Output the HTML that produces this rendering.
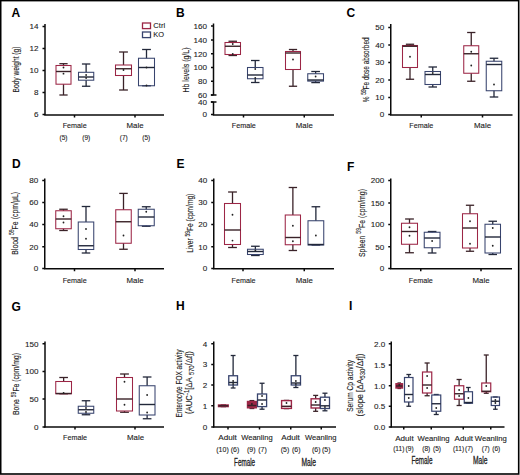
<!DOCTYPE html>
<html><head><meta charset="utf-8"><style>
html,body{margin:0;padding:0;background:#fff;width:520px;height:475px;overflow:hidden;}
svg{display:block;font-family:"Liberation Sans",sans-serif;}
</style></head><body>
<svg width="520" height="475" viewBox="0 0 520 475" font-family="Liberation Sans, sans-serif">
<rect x="0" y="0" width="520" height="475" fill="#fff"/>
<text x="11.5" y="17.45" font-size="12" font-weight="bold" fill="#000">A</text>
<line x1="45" y1="24" x2="45" y2="115" stroke="#0a0a0a" stroke-width="1.5"/>
<line x1="42.5" y1="26.5" x2="45" y2="26.5" stroke="#0a0a0a" stroke-width="1.5"/>
<text x="38.5" y="29.45245" font-size="8.1" text-anchor="end" fill="#222" font-weight="normal" stroke="#222" stroke-width="0.1">14</text>
<line x1="42.5" y1="48.5" x2="45" y2="48.5" stroke="#0a0a0a" stroke-width="1.5"/>
<text x="38.5" y="51.45245" font-size="8.1" text-anchor="end" fill="#222" font-weight="normal" stroke="#222" stroke-width="0.1">12</text>
<line x1="42.5" y1="70.5" x2="45" y2="70.5" stroke="#0a0a0a" stroke-width="1.5"/>
<text x="38.5" y="73.45245" font-size="8.1" text-anchor="end" fill="#222" font-weight="normal" stroke="#222" stroke-width="0.1">10</text>
<line x1="42.5" y1="92.5" x2="45" y2="92.5" stroke="#0a0a0a" stroke-width="1.5"/>
<text x="38.5" y="95.45245" font-size="8.1" text-anchor="end" fill="#222" font-weight="normal" stroke="#222" stroke-width="0.1">8</text>
<line x1="42.5" y1="114.5" x2="45" y2="114.5" stroke="#0a0a0a" stroke-width="1.5"/>
<text x="38.5" y="117.45245" font-size="8.1" text-anchor="end" fill="#222" font-weight="normal" stroke="#222" stroke-width="0.1">6</text>
<line x1="44.25" y1="115" x2="164" y2="115" stroke="#0a0a0a" stroke-width="1.5"/>
<line x1="74.5" y1="115" x2="74.5" y2="117.5" stroke="#0a0a0a" stroke-width="1.5"/>
<line x1="135" y1="115" x2="135" y2="117.5" stroke="#0a0a0a" stroke-width="1.5"/>
<line x1="63.5" y1="63.7" x2="63.5" y2="65.5" stroke="#3a2228" stroke-width="1.3"/>
<line x1="59.375" y1="63.7" x2="67.625" y2="63.7" stroke="#3a2228" stroke-width="1.3"/>
<line x1="63.5" y1="84.2" x2="63.5" y2="95" stroke="#3a2228" stroke-width="1.3"/>
<line x1="59.375" y1="95" x2="67.625" y2="95" stroke="#3a2228" stroke-width="1.3"/>
<rect x="56" y="65.5" width="15" height="18.700000000000003" fill="none" stroke="#9c2646" stroke-width="1.05"/>
<line x1="56" y1="71.5" x2="71" y2="71.5" stroke="#3a2228" stroke-width="1.4"/>
<circle cx="63.5" cy="67.5" r="0.9" fill="#222"/>
<circle cx="63.5" cy="73.7" r="0.9" fill="#222"/>
<line x1="86.125" y1="64" x2="86.125" y2="72.3" stroke="#22283a" stroke-width="1.3"/>
<line x1="81.93125" y1="64" x2="90.31875" y2="64" stroke="#22283a" stroke-width="1.3"/>
<line x1="86.125" y1="80.2" x2="86.125" y2="86.25" stroke="#22283a" stroke-width="1.3"/>
<line x1="81.93125" y1="86.25" x2="90.31875" y2="86.25" stroke="#22283a" stroke-width="1.3"/>
<rect x="78.5" y="72.3" width="15.25" height="7.900000000000006" fill="none" stroke="#38446e" stroke-width="1.05"/>
<line x1="78.5" y1="77" x2="93.75" y2="77" stroke="#22283a" stroke-width="1.4"/>
<circle cx="86.125" cy="75" r="0.9" fill="#222"/>
<circle cx="86.125" cy="78" r="0.9" fill="#222"/>
<line x1="123.5" y1="52" x2="123.5" y2="65" stroke="#3a2228" stroke-width="1.3"/>
<line x1="119.1" y1="52" x2="127.9" y2="52" stroke="#3a2228" stroke-width="1.3"/>
<line x1="123.5" y1="75.5" x2="123.5" y2="90" stroke="#3a2228" stroke-width="1.3"/>
<line x1="119.1" y1="90" x2="127.9" y2="90" stroke="#3a2228" stroke-width="1.3"/>
<rect x="115.5" y="65" width="16.0" height="10.5" fill="none" stroke="#9c2646" stroke-width="1.05"/>
<line x1="115.5" y1="68.75" x2="131.5" y2="68.75" stroke="#3a2228" stroke-width="1.4"/>
<circle cx="123.5" cy="70" r="0.9" fill="#222"/>
<line x1="146.5" y1="49.5" x2="146.5" y2="58.25" stroke="#22283a" stroke-width="1.3"/>
<line x1="142.1" y1="49.5" x2="150.9" y2="49.5" stroke="#22283a" stroke-width="1.3"/>
<line x1="142.1" y1="85.75" x2="150.9" y2="85.75" stroke="#22283a" stroke-width="1.3"/>
<rect x="138.5" y="58.25" width="16.0" height="27.5" fill="none" stroke="#38446e" stroke-width="1.05"/>
<line x1="138.5" y1="67.5" x2="154.5" y2="67.5" stroke="#22283a" stroke-width="1.4"/>
<circle cx="146.5" cy="67.5" r="0.9" fill="#222"/>
<circle cx="146.5" cy="85.5" r="0.9" fill="#222"/>
<text x="74.7" y="128.132" font-size="8" text-anchor="middle" fill="#222" font-weight="normal" textLength="24" lengthAdjust="spacingAndGlyphs" stroke="#222" stroke-width="0.12">Female</text>
<text x="135" y="128.132" font-size="8" text-anchor="middle" fill="#222" font-weight="normal" textLength="17" lengthAdjust="spacingAndGlyphs" stroke="#222" stroke-width="0.12">Male</text>
<text x="63.5" y="139.96925000000002" font-size="6.5" text-anchor="middle" fill="#222" font-weight="normal" stroke="#222" stroke-width="0.1">(5)</text>
<text x="86.2" y="139.96925000000002" font-size="6.5" text-anchor="middle" fill="#222" font-weight="normal" stroke="#222" stroke-width="0.1">(9)</text>
<text x="123.75" y="139.96925000000002" font-size="6.5" text-anchor="middle" fill="#222" font-weight="normal" stroke="#222" stroke-width="0.1">(7)</text>
<text x="146.25" y="139.96925000000002" font-size="6.5" text-anchor="middle" fill="#222" font-weight="normal" stroke="#222" stroke-width="0.1">(5)</text>
<g transform="translate(19.20,69.5) rotate(-90) scale(0.6970,1)" fill="#222" stroke="#222" stroke-width="0.12">
<text x="-33.00" y="0" font-size="9.5">Body weight (g)</text>
</g>
<rect x="142.5" y="23" width="8" height="5.6" fill="none" stroke="#9c2646" stroke-width="1.3"/>
<rect x="142.5" y="32" width="8" height="5.6" fill="none" stroke="#38446e" stroke-width="1.3"/>
<text x="153.3" y="27.5" font-size="8" text-anchor="start" fill="#1a1a1a" font-weight="normal" textLength="11.8" lengthAdjust="spacingAndGlyphs" stroke="#1a1a1a" stroke-width="0.1">Ctrl</text>
<text x="153.3" y="37" font-size="8" text-anchor="start" fill="#1a1a1a" font-weight="normal" textLength="10.8" lengthAdjust="spacingAndGlyphs" stroke="#1a1a1a" stroke-width="0.1">KO</text>
<text x="176" y="17.45" font-size="12" font-weight="bold" fill="#000">B</text>
<line x1="213.5" y1="23.5" x2="213.5" y2="95" stroke="#0a0a0a" stroke-width="1.5"/>
<line x1="213.5" y1="102" x2="213.5" y2="115" stroke="#0a0a0a" stroke-width="1.5"/>
<line x1="211.0" y1="26" x2="213.5" y2="26" stroke="#0a0a0a" stroke-width="1.5"/>
<text x="207.0" y="28.95245" font-size="8.1" text-anchor="end" fill="#222" font-weight="normal" stroke="#222" stroke-width="0.1">160</text>
<line x1="211.0" y1="40" x2="213.5" y2="40" stroke="#0a0a0a" stroke-width="1.5"/>
<text x="207.0" y="42.95245" font-size="8.1" text-anchor="end" fill="#222" font-weight="normal" stroke="#222" stroke-width="0.1">140</text>
<line x1="211.0" y1="53.75" x2="213.5" y2="53.75" stroke="#0a0a0a" stroke-width="1.5"/>
<text x="207.0" y="56.70245" font-size="8.1" text-anchor="end" fill="#222" font-weight="normal" stroke="#222" stroke-width="0.1">120</text>
<line x1="211.0" y1="67.5" x2="213.5" y2="67.5" stroke="#0a0a0a" stroke-width="1.5"/>
<text x="207.0" y="70.45245" font-size="8.1" text-anchor="end" fill="#222" font-weight="normal" stroke="#222" stroke-width="0.1">100</text>
<line x1="211.0" y1="81.25" x2="213.5" y2="81.25" stroke="#0a0a0a" stroke-width="1.5"/>
<text x="207.0" y="84.20245" font-size="8.1" text-anchor="end" fill="#222" font-weight="normal" stroke="#222" stroke-width="0.1">80</text>
<line x1="211.0" y1="95" x2="213.5" y2="95" stroke="#0a0a0a" stroke-width="1.5"/>
<text x="207.0" y="97.95245" font-size="8.1" text-anchor="end" fill="#222" font-weight="normal" stroke="#222" stroke-width="0.1">60</text>
<line x1="211.0" y1="102" x2="213.5" y2="102" stroke="#0a0a0a" stroke-width="1.5"/>
<text x="207.0" y="104.95245" font-size="8.1" text-anchor="end" fill="#222" font-weight="normal" stroke="#222" stroke-width="0.1">40</text>
<line x1="211.0" y1="114.5" x2="213.5" y2="114.5" stroke="#0a0a0a" stroke-width="1.5"/>
<text x="207.0" y="117.45245" font-size="8.1" text-anchor="end" fill="#222" font-weight="normal" stroke="#222" stroke-width="0.1">0</text>
<line x1="212.75" y1="115" x2="334" y2="115" stroke="#0a0a0a" stroke-width="1.5"/>
<line x1="243.5" y1="115" x2="243.5" y2="117.5" stroke="#0a0a0a" stroke-width="1.5"/>
<line x1="304.25" y1="115" x2="304.25" y2="117.5" stroke="#0a0a0a" stroke-width="1.5"/>
<line x1="210.8" y1="95" x2="216.5" y2="95" stroke="#0a0a0a" stroke-width="1.5"/>
<line x1="210.8" y1="102" x2="216.5" y2="102" stroke="#0a0a0a" stroke-width="1.5"/>
<line x1="232.75" y1="41.25" x2="232.75" y2="42.5" stroke="#3a2228" stroke-width="1.3"/>
<line x1="228.4875" y1="41.25" x2="237.0125" y2="41.25" stroke="#3a2228" stroke-width="1.3"/>
<line x1="232.75" y1="54.5" x2="232.75" y2="55.5" stroke="#3a2228" stroke-width="1.3"/>
<line x1="228.4875" y1="55.5" x2="237.0125" y2="55.5" stroke="#3a2228" stroke-width="1.3"/>
<rect x="225" y="42.5" width="15.5" height="12.0" fill="none" stroke="#9c2646" stroke-width="1.05"/>
<line x1="225" y1="46.25" x2="240.5" y2="46.25" stroke="#3a2228" stroke-width="1.4"/>
<circle cx="232.75" cy="44" r="0.9" fill="#222"/>
<circle cx="232.75" cy="54" r="0.9" fill="#222"/>
<line x1="255.25" y1="60.5" x2="255.25" y2="67.5" stroke="#22283a" stroke-width="1.3"/>
<line x1="250.9875" y1="60.5" x2="259.5125" y2="60.5" stroke="#22283a" stroke-width="1.3"/>
<line x1="255.25" y1="78.75" x2="255.25" y2="82.5" stroke="#22283a" stroke-width="1.3"/>
<line x1="250.9875" y1="82.5" x2="259.5125" y2="82.5" stroke="#22283a" stroke-width="1.3"/>
<rect x="247.5" y="67.5" width="15.5" height="11.25" fill="none" stroke="#38446e" stroke-width="1.05"/>
<line x1="247.5" y1="75" x2="263" y2="75" stroke="#22283a" stroke-width="1.4"/>
<circle cx="255.25" cy="69" r="0.9" fill="#222"/>
<circle cx="255.25" cy="78" r="0.9" fill="#222"/>
<line x1="293.0" y1="49.5" x2="293.0" y2="51.5" stroke="#3a2228" stroke-width="1.3"/>
<line x1="288.875" y1="49.5" x2="297.125" y2="49.5" stroke="#3a2228" stroke-width="1.3"/>
<line x1="293.0" y1="69.5" x2="293.0" y2="86.25" stroke="#3a2228" stroke-width="1.3"/>
<line x1="288.875" y1="86.25" x2="297.125" y2="86.25" stroke="#3a2228" stroke-width="1.3"/>
<rect x="285.5" y="51.5" width="15.0" height="18.0" fill="none" stroke="#9c2646" stroke-width="1.05"/>
<line x1="285.5" y1="53" x2="300.5" y2="53" stroke="#3a2228" stroke-width="1.4"/>
<circle cx="293.0" cy="59.5" r="0.9" fill="#222"/>
<line x1="315.625" y1="71.5" x2="315.625" y2="73.75" stroke="#22283a" stroke-width="1.3"/>
<line x1="311.29375" y1="71.5" x2="319.95625" y2="71.5" stroke="#22283a" stroke-width="1.3"/>
<line x1="315.625" y1="81.1" x2="315.625" y2="82.6" stroke="#22283a" stroke-width="1.3"/>
<line x1="311.29375" y1="82.6" x2="319.95625" y2="82.6" stroke="#22283a" stroke-width="1.3"/>
<rect x="307.75" y="73.75" width="15.75" height="7.349999999999994" fill="none" stroke="#38446e" stroke-width="1.05"/>
<line x1="307.75" y1="80" x2="323.5" y2="80" stroke="#22283a" stroke-width="1.4"/>
<circle cx="315.625" cy="76.5" r="0.9" fill="#222"/>
<text x="243.75" y="128.132" font-size="8" text-anchor="middle" fill="#222" font-weight="normal" textLength="24" lengthAdjust="spacingAndGlyphs" stroke="#222" stroke-width="0.12">Female</text>
<text x="304.25" y="128.132" font-size="8" text-anchor="middle" fill="#222" font-weight="normal" textLength="17" lengthAdjust="spacingAndGlyphs" stroke="#222" stroke-width="0.12">Male</text>
<g transform="translate(189.20,70) rotate(-90) scale(0.7348,1)" fill="#222" stroke="#222" stroke-width="0.12">
<text x="-30.62" y="0" font-size="9.5">Hb levels (g/L)</text>
</g>
<text x="346.5" y="17.45" font-size="12" font-weight="bold" fill="#000">C</text>
<line x1="390.75" y1="24" x2="390.75" y2="115" stroke="#0a0a0a" stroke-width="1.5"/>
<line x1="388.25" y1="27.5" x2="390.75" y2="27.5" stroke="#0a0a0a" stroke-width="1.5"/>
<text x="384.25" y="30.45245" font-size="8.1" text-anchor="end" fill="#222" font-weight="normal" stroke="#222" stroke-width="0.1">50</text>
<line x1="388.25" y1="45" x2="390.75" y2="45" stroke="#0a0a0a" stroke-width="1.5"/>
<text x="384.25" y="47.95245" font-size="8.1" text-anchor="end" fill="#222" font-weight="normal" stroke="#222" stroke-width="0.1">40</text>
<line x1="388.25" y1="62.5" x2="390.75" y2="62.5" stroke="#0a0a0a" stroke-width="1.5"/>
<text x="384.25" y="65.45245" font-size="8.1" text-anchor="end" fill="#222" font-weight="normal" stroke="#222" stroke-width="0.1">30</text>
<line x1="388.25" y1="80" x2="390.75" y2="80" stroke="#0a0a0a" stroke-width="1.5"/>
<text x="384.25" y="82.95245" font-size="8.1" text-anchor="end" fill="#222" font-weight="normal" stroke="#222" stroke-width="0.1">20</text>
<line x1="388.25" y1="97.5" x2="390.75" y2="97.5" stroke="#0a0a0a" stroke-width="1.5"/>
<text x="384.25" y="100.45245" font-size="8.1" text-anchor="end" fill="#222" font-weight="normal" stroke="#222" stroke-width="0.1">10</text>
<line x1="388.25" y1="114.5" x2="390.75" y2="114.5" stroke="#0a0a0a" stroke-width="1.5"/>
<text x="384.25" y="117.45245" font-size="8.1" text-anchor="end" fill="#222" font-weight="normal" stroke="#222" stroke-width="0.1">0</text>
<line x1="390.0" y1="115" x2="512.5" y2="115" stroke="#0a0a0a" stroke-width="1.5"/>
<line x1="421.25" y1="115" x2="421.25" y2="117.5" stroke="#0a0a0a" stroke-width="1.5"/>
<line x1="482.5" y1="115" x2="482.5" y2="117.5" stroke="#0a0a0a" stroke-width="1.5"/>
<line x1="410.0" y1="44.25" x2="410.0" y2="45.5" stroke="#3a2228" stroke-width="1.3"/>
<line x1="405.875" y1="44.25" x2="414.125" y2="44.25" stroke="#3a2228" stroke-width="1.3"/>
<line x1="410.0" y1="67.5" x2="410.0" y2="79.25" stroke="#3a2228" stroke-width="1.3"/>
<line x1="405.875" y1="79.25" x2="414.125" y2="79.25" stroke="#3a2228" stroke-width="1.3"/>
<rect x="402.5" y="45.5" width="15.0" height="22.0" fill="none" stroke="#9c2646" stroke-width="1.05"/>
<line x1="402.5" y1="46.25" x2="417.5" y2="46.25" stroke="#3a2228" stroke-width="1.4"/>
<circle cx="410.0" cy="56.75" r="0.9" fill="#222"/>
<line x1="432.75" y1="67" x2="432.75" y2="71.5" stroke="#22283a" stroke-width="1.3"/>
<line x1="428.4875" y1="67" x2="437.0125" y2="67" stroke="#22283a" stroke-width="1.3"/>
<line x1="432.75" y1="84.5" x2="432.75" y2="87" stroke="#22283a" stroke-width="1.3"/>
<line x1="428.4875" y1="87" x2="437.0125" y2="87" stroke="#22283a" stroke-width="1.3"/>
<rect x="425" y="71.5" width="15.5" height="13.0" fill="none" stroke="#38446e" stroke-width="1.05"/>
<line x1="425" y1="74.5" x2="440.5" y2="74.5" stroke="#22283a" stroke-width="1.4"/>
<circle cx="432.75" cy="73" r="0.9" fill="#222"/>
<line x1="471.25" y1="32.5" x2="471.25" y2="45.75" stroke="#3a2228" stroke-width="1.3"/>
<line x1="467.125" y1="32.5" x2="475.375" y2="32.5" stroke="#3a2228" stroke-width="1.3"/>
<line x1="471.25" y1="73.25" x2="471.25" y2="81.25" stroke="#3a2228" stroke-width="1.3"/>
<line x1="467.125" y1="81.25" x2="475.375" y2="81.25" stroke="#3a2228" stroke-width="1.3"/>
<rect x="463.75" y="45.75" width="15.0" height="27.5" fill="none" stroke="#9c2646" stroke-width="1.05"/>
<line x1="463.75" y1="53.75" x2="478.75" y2="53.75" stroke="#3a2228" stroke-width="1.4"/>
<circle cx="471.25" cy="51.75" r="0.9" fill="#222"/>
<circle cx="471.25" cy="65.5" r="0.9" fill="#222"/>
<line x1="494.0" y1="58.25" x2="494.0" y2="61.25" stroke="#22283a" stroke-width="1.3"/>
<line x1="489.7375" y1="58.25" x2="498.2625" y2="58.25" stroke="#22283a" stroke-width="1.3"/>
<line x1="494.0" y1="90.75" x2="494.0" y2="97" stroke="#22283a" stroke-width="1.3"/>
<line x1="489.7375" y1="97" x2="498.2625" y2="97" stroke="#22283a" stroke-width="1.3"/>
<rect x="486.25" y="61.25" width="15.5" height="29.5" fill="none" stroke="#38446e" stroke-width="1.05"/>
<line x1="486.25" y1="64.5" x2="501.75" y2="64.5" stroke="#22283a" stroke-width="1.4"/>
<circle cx="494.0" cy="84.5" r="0.9" fill="#222"/>
<text x="421.25" y="128.132" font-size="8" text-anchor="middle" fill="#222" font-weight="normal" textLength="24" lengthAdjust="spacingAndGlyphs" stroke="#222" stroke-width="0.12">Female</text>
<text x="482.5" y="128.132" font-size="8" text-anchor="middle" fill="#222" font-weight="normal" textLength="17" lengthAdjust="spacingAndGlyphs" stroke="#222" stroke-width="0.12">Male</text>
<g transform="translate(369.30,69.8) rotate(-90) scale(0.6810,1)" fill="#222" stroke="#222" stroke-width="0.12">
<text x="-47.72" y="0" font-size="9.5">% </text>
<text x="-36.64" y="-3.5" font-size="7">59</text>
<text x="-28.85" y="0" font-size="9.5">Fe dose absorbed</text>
</g>
<text x="12" y="167.55" font-size="12" font-weight="bold" fill="#000">D</text>
<line x1="44.75" y1="178.5" x2="44.75" y2="269" stroke="#0a0a0a" stroke-width="1.5"/>
<line x1="42.25" y1="180.5" x2="44.75" y2="180.5" stroke="#0a0a0a" stroke-width="1.5"/>
<text x="38.25" y="183.45245" font-size="8.1" text-anchor="end" fill="#222" font-weight="normal" stroke="#222" stroke-width="0.1">80</text>
<line x1="42.25" y1="202.5" x2="44.75" y2="202.5" stroke="#0a0a0a" stroke-width="1.5"/>
<text x="38.25" y="205.45245" font-size="8.1" text-anchor="end" fill="#222" font-weight="normal" stroke="#222" stroke-width="0.1">60</text>
<line x1="42.25" y1="224.5" x2="44.75" y2="224.5" stroke="#0a0a0a" stroke-width="1.5"/>
<text x="38.25" y="227.45245" font-size="8.1" text-anchor="end" fill="#222" font-weight="normal" stroke="#222" stroke-width="0.1">40</text>
<line x1="42.25" y1="246.75" x2="44.75" y2="246.75" stroke="#0a0a0a" stroke-width="1.5"/>
<text x="38.25" y="249.70245" font-size="8.1" text-anchor="end" fill="#222" font-weight="normal" stroke="#222" stroke-width="0.1">20</text>
<line x1="42.25" y1="268.5" x2="44.75" y2="268.5" stroke="#0a0a0a" stroke-width="1.5"/>
<text x="38.25" y="271.45245" font-size="8.1" text-anchor="end" fill="#222" font-weight="normal" stroke="#222" stroke-width="0.1">0</text>
<line x1="44.0" y1="268.75" x2="164" y2="268.75" stroke="#0a0a0a" stroke-width="1.5"/>
<line x1="74.5" y1="268.75" x2="74.5" y2="271.25" stroke="#0a0a0a" stroke-width="1.5"/>
<line x1="135" y1="268.75" x2="135" y2="271.25" stroke="#0a0a0a" stroke-width="1.5"/>
<line x1="63.5" y1="209.25" x2="63.5" y2="210.75" stroke="#3a2228" stroke-width="1.3"/>
<line x1="59.2375" y1="209.25" x2="67.7625" y2="209.25" stroke="#3a2228" stroke-width="1.3"/>
<line x1="63.5" y1="228.75" x2="63.5" y2="230.5" stroke="#3a2228" stroke-width="1.3"/>
<line x1="59.2375" y1="230.5" x2="67.7625" y2="230.5" stroke="#3a2228" stroke-width="1.3"/>
<rect x="55.75" y="210.75" width="15.5" height="18.0" fill="none" stroke="#9c2646" stroke-width="1.05"/>
<line x1="55.75" y1="219" x2="71.25" y2="219" stroke="#3a2228" stroke-width="1.4"/>
<circle cx="63.5" cy="216.25" r="0.9" fill="#222"/>
<circle cx="63.5" cy="222.5" r="0.9" fill="#222"/>
<line x1="86.0" y1="206.5" x2="86.0" y2="222" stroke="#22283a" stroke-width="1.3"/>
<line x1="81.7375" y1="206.5" x2="90.2625" y2="206.5" stroke="#22283a" stroke-width="1.3"/>
<line x1="86.0" y1="249.5" x2="86.0" y2="253" stroke="#22283a" stroke-width="1.3"/>
<line x1="81.7375" y1="253" x2="90.2625" y2="253" stroke="#22283a" stroke-width="1.3"/>
<rect x="78.25" y="222" width="15.5" height="27.5" fill="none" stroke="#38446e" stroke-width="1.05"/>
<line x1="78.25" y1="245.75" x2="93.75" y2="245.75" stroke="#22283a" stroke-width="1.4"/>
<circle cx="86.0" cy="229" r="0.9" fill="#222"/>
<circle cx="86.0" cy="238.75" r="0.9" fill="#222"/>
<line x1="123.5" y1="193.4" x2="123.5" y2="209.75" stroke="#3a2228" stroke-width="1.3"/>
<line x1="119.2375" y1="193.4" x2="127.7625" y2="193.4" stroke="#3a2228" stroke-width="1.3"/>
<line x1="123.5" y1="243.25" x2="123.5" y2="249.25" stroke="#3a2228" stroke-width="1.3"/>
<line x1="119.2375" y1="249.25" x2="127.7625" y2="249.25" stroke="#3a2228" stroke-width="1.3"/>
<rect x="115.75" y="209.75" width="15.5" height="33.5" fill="none" stroke="#9c2646" stroke-width="1.05"/>
<line x1="115.75" y1="221.75" x2="131.25" y2="221.75" stroke="#3a2228" stroke-width="1.4"/>
<circle cx="123.5" cy="235.5" r="0.9" fill="#222"/>
<line x1="146.25" y1="206.75" x2="146.25" y2="209.25" stroke="#22283a" stroke-width="1.3"/>
<line x1="141.85" y1="206.75" x2="150.65" y2="206.75" stroke="#22283a" stroke-width="1.3"/>
<line x1="146.25" y1="225.75" x2="146.25" y2="226.25" stroke="#22283a" stroke-width="1.3"/>
<line x1="141.85" y1="226.25" x2="150.65" y2="226.25" stroke="#22283a" stroke-width="1.3"/>
<rect x="138.25" y="209.25" width="16.0" height="16.5" fill="none" stroke="#38446e" stroke-width="1.05"/>
<line x1="138.25" y1="217" x2="154.25" y2="217" stroke="#22283a" stroke-width="1.4"/>
<circle cx="146.25" cy="211.75" r="0.9" fill="#222"/>
<text x="74.7" y="282.632" font-size="8" text-anchor="middle" fill="#222" font-weight="normal" textLength="24" lengthAdjust="spacingAndGlyphs" stroke="#222" stroke-width="0.12">Female</text>
<text x="135" y="282.632" font-size="8" text-anchor="middle" fill="#222" font-weight="normal" textLength="17" lengthAdjust="spacingAndGlyphs" stroke="#222" stroke-width="0.12">Male</text>
<g transform="translate(17.90,223.3) rotate(-90) scale(0.7316,1)" fill="#222" stroke="#222" stroke-width="0.12">
<text x="-43.06" y="0" font-size="9.5">Blood </text>
<text x="-16.12" y="-3.5" font-size="7">59</text>
<text x="-8.34" y="0" font-size="9.5">Fe (cpm/μL)</text>
</g>
<text x="176.5" y="167.55" font-size="12" font-weight="bold" fill="#000">E</text>
<line x1="213.75" y1="178.5" x2="213.75" y2="269" stroke="#0a0a0a" stroke-width="1.5"/>
<line x1="211.25" y1="180.5" x2="213.75" y2="180.5" stroke="#0a0a0a" stroke-width="1.5"/>
<text x="207.25" y="183.45245" font-size="8.1" text-anchor="end" fill="#222" font-weight="normal" stroke="#222" stroke-width="0.1">40</text>
<line x1="211.25" y1="202.5" x2="213.75" y2="202.5" stroke="#0a0a0a" stroke-width="1.5"/>
<text x="207.25" y="205.45245" font-size="8.1" text-anchor="end" fill="#222" font-weight="normal" stroke="#222" stroke-width="0.1">30</text>
<line x1="211.25" y1="224.5" x2="213.75" y2="224.5" stroke="#0a0a0a" stroke-width="1.5"/>
<text x="207.25" y="227.45245" font-size="8.1" text-anchor="end" fill="#222" font-weight="normal" stroke="#222" stroke-width="0.1">20</text>
<line x1="211.25" y1="246.75" x2="213.75" y2="246.75" stroke="#0a0a0a" stroke-width="1.5"/>
<text x="207.25" y="249.70245" font-size="8.1" text-anchor="end" fill="#222" font-weight="normal" stroke="#222" stroke-width="0.1">10</text>
<line x1="211.25" y1="268.5" x2="213.75" y2="268.5" stroke="#0a0a0a" stroke-width="1.5"/>
<text x="207.25" y="271.45245" font-size="8.1" text-anchor="end" fill="#222" font-weight="normal" stroke="#222" stroke-width="0.1">0</text>
<line x1="213.0" y1="268.75" x2="334" y2="268.75" stroke="#0a0a0a" stroke-width="1.5"/>
<line x1="243" y1="268.75" x2="243" y2="271.25" stroke="#0a0a0a" stroke-width="1.5"/>
<line x1="304.25" y1="268.75" x2="304.25" y2="271.25" stroke="#0a0a0a" stroke-width="1.5"/>
<line x1="232.5" y1="192" x2="232.5" y2="203.5" stroke="#3a2228" stroke-width="1.3"/>
<line x1="228.1" y1="192" x2="236.9" y2="192" stroke="#3a2228" stroke-width="1.3"/>
<line x1="232.5" y1="244.5" x2="232.5" y2="247.5" stroke="#3a2228" stroke-width="1.3"/>
<line x1="228.1" y1="247.5" x2="236.9" y2="247.5" stroke="#3a2228" stroke-width="1.3"/>
<rect x="224.5" y="203.5" width="16.0" height="41.0" fill="none" stroke="#9c2646" stroke-width="1.05"/>
<line x1="224.5" y1="230" x2="240.5" y2="230" stroke="#3a2228" stroke-width="1.4"/>
<circle cx="232.5" cy="214.75" r="0.9" fill="#222"/>
<circle cx="232.5" cy="240.6" r="0.9" fill="#222"/>
<line x1="255.375" y1="246.25" x2="255.375" y2="249.25" stroke="#22283a" stroke-width="1.3"/>
<line x1="251.04375" y1="246.25" x2="259.70625" y2="246.25" stroke="#22283a" stroke-width="1.3"/>
<line x1="255.375" y1="254.5" x2="255.375" y2="255.5" stroke="#22283a" stroke-width="1.3"/>
<line x1="251.04375" y1="255.5" x2="259.70625" y2="255.5" stroke="#22283a" stroke-width="1.3"/>
<rect x="247.5" y="249.25" width="15.75" height="5.25" fill="none" stroke="#38446e" stroke-width="1.05"/>
<line x1="247.5" y1="251.5" x2="263.25" y2="251.5" stroke="#22283a" stroke-width="1.4"/>
<circle cx="255.375" cy="250.5" r="0.9" fill="#222"/>
<line x1="292.875" y1="187.5" x2="292.875" y2="215" stroke="#3a2228" stroke-width="1.3"/>
<line x1="288.68125" y1="187.5" x2="297.06875" y2="187.5" stroke="#3a2228" stroke-width="1.3"/>
<line x1="292.875" y1="244.75" x2="292.875" y2="250.5" stroke="#3a2228" stroke-width="1.3"/>
<line x1="288.68125" y1="250.5" x2="297.06875" y2="250.5" stroke="#3a2228" stroke-width="1.3"/>
<rect x="285.25" y="215" width="15.25" height="29.75" fill="none" stroke="#9c2646" stroke-width="1.05"/>
<line x1="285.25" y1="237.5" x2="300.5" y2="237.5" stroke="#3a2228" stroke-width="1.4"/>
<circle cx="292.875" cy="225.75" r="0.9" fill="#222"/>
<circle cx="292.875" cy="241.25" r="0.9" fill="#222"/>
<line x1="315.875" y1="206.75" x2="315.875" y2="220.75" stroke="#22283a" stroke-width="1.3"/>
<line x1="311.54375" y1="206.75" x2="320.20625" y2="206.75" stroke="#22283a" stroke-width="1.3"/>
<line x1="311.54375" y1="245" x2="320.20625" y2="245" stroke="#22283a" stroke-width="1.3"/>
<rect x="308" y="220.75" width="15.75" height="24.25" fill="none" stroke="#38446e" stroke-width="1.05"/>
<line x1="308" y1="244.5" x2="323.75" y2="244.5" stroke="#22283a" stroke-width="1.4"/>
<circle cx="315.875" cy="235.5" r="0.9" fill="#222"/>
<text x="243.5" y="282.632" font-size="8" text-anchor="middle" fill="#222" font-weight="normal" textLength="24" lengthAdjust="spacingAndGlyphs" stroke="#222" stroke-width="0.12">Female</text>
<text x="304.25" y="282.632" font-size="8" text-anchor="middle" fill="#222" font-weight="normal" textLength="17" lengthAdjust="spacingAndGlyphs" stroke="#222" stroke-width="0.12">Male</text>
<g transform="translate(193.30,223.2) rotate(-90) scale(0.6954,1)" fill="#222" stroke="#222" stroke-width="0.12">
<text x="-42.42" y="0" font-size="9.5">Liver </text>
<text x="-19.19" y="-3.5" font-size="7">59</text>
<text x="-11.41" y="0" font-size="9.5">Fe (cpm/mg)</text>
</g>
<text x="347" y="170.85" font-size="12" font-weight="bold" fill="#000">F</text>
<line x1="390.75" y1="178.5" x2="390.75" y2="269" stroke="#0a0a0a" stroke-width="1.5"/>
<line x1="388.25" y1="180.5" x2="390.75" y2="180.5" stroke="#0a0a0a" stroke-width="1.5"/>
<text x="384.25" y="183.45245" font-size="8.1" text-anchor="end" fill="#222" font-weight="normal" stroke="#222" stroke-width="0.1">200</text>
<line x1="388.25" y1="203" x2="390.75" y2="203" stroke="#0a0a0a" stroke-width="1.5"/>
<text x="384.25" y="205.95245" font-size="8.1" text-anchor="end" fill="#222" font-weight="normal" stroke="#222" stroke-width="0.1">150</text>
<line x1="388.25" y1="224.5" x2="390.75" y2="224.5" stroke="#0a0a0a" stroke-width="1.5"/>
<text x="384.25" y="227.45245" font-size="8.1" text-anchor="end" fill="#222" font-weight="normal" stroke="#222" stroke-width="0.1">100</text>
<line x1="388.25" y1="246.75" x2="390.75" y2="246.75" stroke="#0a0a0a" stroke-width="1.5"/>
<text x="384.25" y="249.70245" font-size="8.1" text-anchor="end" fill="#222" font-weight="normal" stroke="#222" stroke-width="0.1">50</text>
<line x1="388.25" y1="268.5" x2="390.75" y2="268.5" stroke="#0a0a0a" stroke-width="1.5"/>
<text x="384.25" y="271.45245" font-size="8.1" text-anchor="end" fill="#222" font-weight="normal" stroke="#222" stroke-width="0.1">0</text>
<line x1="390.0" y1="268.75" x2="512" y2="268.75" stroke="#0a0a0a" stroke-width="1.5"/>
<line x1="420.75" y1="268.75" x2="420.75" y2="271.25" stroke="#0a0a0a" stroke-width="1.5"/>
<line x1="481" y1="268.75" x2="481" y2="271.25" stroke="#0a0a0a" stroke-width="1.5"/>
<line x1="409.5" y1="219" x2="409.5" y2="223.25" stroke="#3a2228" stroke-width="1.3"/>
<line x1="405.1" y1="219" x2="413.9" y2="219" stroke="#3a2228" stroke-width="1.3"/>
<line x1="409.5" y1="244.25" x2="409.5" y2="252.75" stroke="#3a2228" stroke-width="1.3"/>
<line x1="405.1" y1="252.75" x2="413.9" y2="252.75" stroke="#3a2228" stroke-width="1.3"/>
<rect x="401.5" y="223.25" width="16.0" height="21.0" fill="none" stroke="#9c2646" stroke-width="1.05"/>
<line x1="401.5" y1="231.5" x2="417.5" y2="231.5" stroke="#3a2228" stroke-width="1.4"/>
<circle cx="409.5" cy="227.25" r="0.9" fill="#222"/>
<circle cx="409.5" cy="235.75" r="0.9" fill="#222"/>
<line x1="432.125" y1="231.5" x2="432.125" y2="232.25" stroke="#22283a" stroke-width="1.3"/>
<line x1="427.79375" y1="231.5" x2="436.45625" y2="231.5" stroke="#22283a" stroke-width="1.3"/>
<line x1="432.125" y1="247.75" x2="432.125" y2="253" stroke="#22283a" stroke-width="1.3"/>
<line x1="427.79375" y1="253" x2="436.45625" y2="253" stroke="#22283a" stroke-width="1.3"/>
<rect x="424.25" y="232.25" width="15.75" height="15.5" fill="none" stroke="#38446e" stroke-width="1.05"/>
<line x1="424.25" y1="238" x2="440" y2="238" stroke="#22283a" stroke-width="1.4"/>
<circle cx="432.125" cy="241" r="0.9" fill="#222"/>
<line x1="470.0" y1="205.25" x2="470.0" y2="213.75" stroke="#3a2228" stroke-width="1.3"/>
<line x1="465.875" y1="205.25" x2="474.125" y2="205.25" stroke="#3a2228" stroke-width="1.3"/>
<line x1="470.0" y1="248" x2="470.0" y2="251.25" stroke="#3a2228" stroke-width="1.3"/>
<line x1="465.875" y1="251.25" x2="474.125" y2="251.25" stroke="#3a2228" stroke-width="1.3"/>
<rect x="462.5" y="213.75" width="15.0" height="34.25" fill="none" stroke="#9c2646" stroke-width="1.05"/>
<line x1="462.5" y1="228" x2="477.5" y2="228" stroke="#3a2228" stroke-width="1.4"/>
<circle cx="470.0" cy="221.25" r="0.9" fill="#222"/>
<circle cx="470.0" cy="243.75" r="0.9" fill="#222"/>
<line x1="492.75" y1="221.25" x2="492.75" y2="224.25" stroke="#22283a" stroke-width="1.3"/>
<line x1="488.4875" y1="221.25" x2="497.0125" y2="221.25" stroke="#22283a" stroke-width="1.3"/>
<line x1="492.75" y1="253" x2="492.75" y2="254.5" stroke="#22283a" stroke-width="1.3"/>
<line x1="488.4875" y1="254.5" x2="497.0125" y2="254.5" stroke="#22283a" stroke-width="1.3"/>
<rect x="485" y="224.25" width="15.5" height="28.75" fill="none" stroke="#38446e" stroke-width="1.05"/>
<line x1="485" y1="237" x2="500.5" y2="237" stroke="#22283a" stroke-width="1.4"/>
<circle cx="492.75" cy="228" r="0.9" fill="#222"/>
<circle cx="492.75" cy="245.75" r="0.9" fill="#222"/>
<text x="420.75" y="282.632" font-size="8" text-anchor="middle" fill="#222" font-weight="normal" textLength="24" lengthAdjust="spacingAndGlyphs" stroke="#222" stroke-width="0.12">Female</text>
<text x="481" y="282.632" font-size="8" text-anchor="middle" fill="#222" font-weight="normal" textLength="17" lengthAdjust="spacingAndGlyphs" stroke="#222" stroke-width="0.12">Male</text>
<g transform="translate(364.50,223) rotate(-90) scale(0.7247,1)" fill="#222" stroke="#222" stroke-width="0.12">
<text x="-46.92" y="0" font-size="9.5">Spleen </text>
<text x="-14.70" y="-3.5" font-size="7">59</text>
<text x="-6.91" y="0" font-size="9.5">Fe (cpm/mg)</text>
</g>
<text x="11.5" y="310.75" font-size="12" font-weight="bold" fill="#000">G</text>
<line x1="45" y1="341.5" x2="45" y2="427.5" stroke="#0a0a0a" stroke-width="1.5"/>
<line x1="42.5" y1="343.75" x2="45" y2="343.75" stroke="#0a0a0a" stroke-width="1.5"/>
<text x="38.5" y="346.70245" font-size="8.1" text-anchor="end" fill="#222" font-weight="normal" stroke="#222" stroke-width="0.1">150</text>
<line x1="42.5" y1="371.5" x2="45" y2="371.5" stroke="#0a0a0a" stroke-width="1.5"/>
<text x="38.5" y="374.45245" font-size="8.1" text-anchor="end" fill="#222" font-weight="normal" stroke="#222" stroke-width="0.1">100</text>
<line x1="42.5" y1="399" x2="45" y2="399" stroke="#0a0a0a" stroke-width="1.5"/>
<text x="38.5" y="401.95245" font-size="8.1" text-anchor="end" fill="#222" font-weight="normal" stroke="#222" stroke-width="0.1">50</text>
<line x1="42.5" y1="427" x2="45" y2="427" stroke="#0a0a0a" stroke-width="1.5"/>
<text x="38.5" y="429.95245" font-size="8.1" text-anchor="end" fill="#222" font-weight="normal" stroke="#222" stroke-width="0.1">0</text>
<line x1="44.25" y1="427" x2="164" y2="427" stroke="#0a0a0a" stroke-width="1.5"/>
<line x1="75" y1="427" x2="75" y2="429.5" stroke="#0a0a0a" stroke-width="1.5"/>
<line x1="135" y1="427" x2="135" y2="429.5" stroke="#0a0a0a" stroke-width="1.5"/>
<line x1="63.625" y1="377.5" x2="63.625" y2="381.5" stroke="#3a2228" stroke-width="1.3"/>
<line x1="59.29375" y1="377.5" x2="67.95625" y2="377.5" stroke="#3a2228" stroke-width="1.3"/>
<line x1="59.29375" y1="393.75" x2="67.95625" y2="393.75" stroke="#3a2228" stroke-width="1.3"/>
<rect x="55.75" y="381.5" width="15.75" height="12.25" fill="none" stroke="#9c2646" stroke-width="1.05"/>
<line x1="55.75" y1="393.5" x2="71.5" y2="393.5" stroke="#3a2228" stroke-width="1.4"/>
<circle cx="63.625" cy="393" r="0.9" fill="#222"/>
<line x1="86.0" y1="400.75" x2="86.0" y2="406.25" stroke="#22283a" stroke-width="1.3"/>
<line x1="81.7375" y1="400.75" x2="90.2625" y2="400.75" stroke="#22283a" stroke-width="1.3"/>
<line x1="86.0" y1="413.25" x2="86.0" y2="414.75" stroke="#22283a" stroke-width="1.3"/>
<line x1="81.7375" y1="414.75" x2="90.2625" y2="414.75" stroke="#22283a" stroke-width="1.3"/>
<rect x="78.25" y="406.25" width="15.5" height="7.0" fill="none" stroke="#38446e" stroke-width="1.05"/>
<line x1="78.25" y1="409.75" x2="93.75" y2="409.75" stroke="#22283a" stroke-width="1.4"/>
<circle cx="86.0" cy="408" r="0.9" fill="#222"/>
<circle cx="86.0" cy="412" r="0.9" fill="#222"/>
<line x1="124.5" y1="374" x2="124.5" y2="377.5" stroke="#3a2228" stroke-width="1.3"/>
<line x1="120.1" y1="374" x2="128.9" y2="374" stroke="#3a2228" stroke-width="1.3"/>
<line x1="124.5" y1="411" x2="124.5" y2="412.25" stroke="#3a2228" stroke-width="1.3"/>
<line x1="120.1" y1="412.25" x2="128.9" y2="412.25" stroke="#3a2228" stroke-width="1.3"/>
<rect x="116.5" y="377.5" width="16.0" height="33.5" fill="none" stroke="#9c2646" stroke-width="1.05"/>
<line x1="116.5" y1="399" x2="132.5" y2="399" stroke="#3a2228" stroke-width="1.4"/>
<circle cx="124.5" cy="381.75" r="0.9" fill="#222"/>
<circle cx="124.5" cy="404.75" r="0.9" fill="#222"/>
<line x1="147.125" y1="377" x2="147.125" y2="385.75" stroke="#22283a" stroke-width="1.3"/>
<line x1="142.79375" y1="377" x2="151.45625" y2="377" stroke="#22283a" stroke-width="1.3"/>
<line x1="147.125" y1="415" x2="147.125" y2="418.75" stroke="#22283a" stroke-width="1.3"/>
<line x1="142.79375" y1="418.75" x2="151.45625" y2="418.75" stroke="#22283a" stroke-width="1.3"/>
<rect x="139.25" y="385.75" width="15.75" height="29.25" fill="none" stroke="#38446e" stroke-width="1.05"/>
<line x1="139.25" y1="404.5" x2="155" y2="404.5" stroke="#22283a" stroke-width="1.4"/>
<circle cx="147.125" cy="395" r="0.9" fill="#222"/>
<circle cx="147.125" cy="412.5" r="0.9" fill="#222"/>
<text x="75" y="440.132" font-size="8" text-anchor="middle" fill="#222" font-weight="normal" textLength="24" lengthAdjust="spacingAndGlyphs" stroke="#222" stroke-width="0.12">Female</text>
<text x="135.5" y="440.132" font-size="8" text-anchor="middle" fill="#222" font-weight="normal" textLength="17" lengthAdjust="spacingAndGlyphs" stroke="#222" stroke-width="0.12">Male</text>
<g transform="translate(19.00,384) rotate(-90) scale(0.7172,1)" fill="#222" stroke="#222" stroke-width="0.12">
<text x="-43.22" y="0" font-size="9.5">Bone </text>
<text x="-18.40" y="-3.5" font-size="7">59</text>
<text x="-10.61" y="0" font-size="9.5">Fe (cpm/mg)</text>
</g>
<text x="176" y="309.95" font-size="12" font-weight="bold" fill="#000">H</text>
<line x1="213.75" y1="341.5" x2="213.75" y2="427.5" stroke="#0a0a0a" stroke-width="1.5"/>
<line x1="211.25" y1="343.75" x2="213.75" y2="343.75" stroke="#0a0a0a" stroke-width="1.5"/>
<text x="207.25" y="346.70245" font-size="8.1" text-anchor="end" fill="#222" font-weight="normal" stroke="#222" stroke-width="0.1">4</text>
<line x1="211.25" y1="364.5" x2="213.75" y2="364.5" stroke="#0a0a0a" stroke-width="1.5"/>
<text x="207.25" y="367.45245" font-size="8.1" text-anchor="end" fill="#222" font-weight="normal" stroke="#222" stroke-width="0.1">3</text>
<line x1="211.25" y1="385" x2="213.75" y2="385" stroke="#0a0a0a" stroke-width="1.5"/>
<text x="207.25" y="387.95245" font-size="8.1" text-anchor="end" fill="#222" font-weight="normal" stroke="#222" stroke-width="0.1">2</text>
<line x1="211.25" y1="405.75" x2="213.75" y2="405.75" stroke="#0a0a0a" stroke-width="1.5"/>
<text x="207.25" y="408.70245" font-size="8.1" text-anchor="end" fill="#222" font-weight="normal" stroke="#222" stroke-width="0.1">1</text>
<line x1="211.25" y1="427" x2="213.75" y2="427" stroke="#0a0a0a" stroke-width="1.5"/>
<text x="207.25" y="429.95245" font-size="8.1" text-anchor="end" fill="#222" font-weight="normal" stroke="#222" stroke-width="0.1">0</text>
<line x1="213.0" y1="427" x2="336" y2="427" stroke="#0a0a0a" stroke-width="1.5"/>
<line x1="228" y1="427" x2="228" y2="429.5" stroke="#0a0a0a" stroke-width="1.5"/>
<line x1="259.5" y1="427" x2="259.5" y2="429.5" stroke="#0a0a0a" stroke-width="1.5"/>
<line x1="290.75" y1="427" x2="290.75" y2="429.5" stroke="#0a0a0a" stroke-width="1.5"/>
<line x1="321.25" y1="427" x2="321.25" y2="429.5" stroke="#0a0a0a" stroke-width="1.5"/>
<line x1="220.6825" y1="405" x2="226.01749999999998" y2="405" stroke="#3a2228" stroke-width="1.3"/>
<line x1="220.6825" y1="406.6" x2="226.01749999999998" y2="406.6" stroke="#3a2228" stroke-width="1.3"/>
<rect x="218.5" y="405" width="9.699999999999989" height="1.6000000000000227" fill="#9c2646" stroke="#9c2646" stroke-width="1.4"/>
<line x1="218.5" y1="405.8" x2="228.2" y2="405.8" stroke="#3a2228" stroke-width="1.4"/>
<line x1="233.125" y1="355.5" x2="233.125" y2="375.75" stroke="#22283a" stroke-width="1.3"/>
<line x1="230.71875" y1="355.5" x2="235.53125" y2="355.5" stroke="#22283a" stroke-width="1.3"/>
<line x1="233.125" y1="385" x2="233.125" y2="388" stroke="#22283a" stroke-width="1.3"/>
<line x1="230.71875" y1="388" x2="235.53125" y2="388" stroke="#22283a" stroke-width="1.3"/>
<rect x="228.75" y="375.75" width="8.75" height="9.25" fill="none" stroke="#38446e" stroke-width="1.3"/>
<line x1="228.75" y1="382.5" x2="237.5" y2="382.5" stroke="#22283a" stroke-width="1.4"/>
<circle cx="233.125" cy="381" r="0.9" fill="#222"/>
<circle cx="233.125" cy="384" r="0.9" fill="#222"/>
<line x1="251.9" y1="400.6" x2="251.9" y2="401.5" stroke="#3a2228" stroke-width="1.3"/>
<line x1="249.48" y1="400.6" x2="254.32000000000002" y2="400.6" stroke="#3a2228" stroke-width="1.3"/>
<line x1="251.9" y1="407.8" x2="251.9" y2="408.5" stroke="#3a2228" stroke-width="1.3"/>
<line x1="249.48" y1="408.5" x2="254.32000000000002" y2="408.5" stroke="#3a2228" stroke-width="1.3"/>
<rect x="247.5" y="401.5" width="8.800000000000011" height="6.300000000000011" fill="#9c2646" stroke="#9c2646" stroke-width="1.4"/>
<line x1="247.5" y1="405.5" x2="256.3" y2="405.5" stroke="#3a2228" stroke-width="1.4"/>
<circle cx="251.9" cy="404" r="0.9" fill="#222"/>
<line x1="262.05" y1="383.25" x2="262.05" y2="394" stroke="#22283a" stroke-width="1.3"/>
<line x1="259.5475" y1="383.25" x2="264.5525" y2="383.25" stroke="#22283a" stroke-width="1.3"/>
<line x1="262.05" y1="406.6" x2="262.05" y2="409.2" stroke="#22283a" stroke-width="1.3"/>
<line x1="259.5475" y1="409.2" x2="264.5525" y2="409.2" stroke="#22283a" stroke-width="1.3"/>
<rect x="257.5" y="394" width="9.100000000000023" height="12.600000000000023" fill="none" stroke="#38446e" stroke-width="1.3"/>
<line x1="257.5" y1="400" x2="266.6" y2="400" stroke="#22283a" stroke-width="1.4"/>
<circle cx="262.05" cy="396" r="0.9" fill="#222"/>
<circle cx="262.05" cy="404" r="0.9" fill="#222"/>
<line x1="283.805" y1="400.4" x2="289.195" y2="400.4" stroke="#3a2228" stroke-width="1.3"/>
<line x1="283.805" y1="408.6" x2="289.195" y2="408.6" stroke="#3a2228" stroke-width="1.3"/>
<rect x="281.6" y="400.6" width="9.799999999999955" height="7.7999999999999545" fill="none" stroke="#9c2646" stroke-width="1.4"/>
<line x1="281.6" y1="406.3" x2="291.4" y2="406.3" stroke="#3a2228" stroke-width="1.4"/>
<circle cx="286.5" cy="403" r="0.9" fill="#222"/>
<line x1="295.875" y1="355.5" x2="295.875" y2="375.75" stroke="#22283a" stroke-width="1.3"/>
<line x1="293.33125" y1="355.5" x2="298.41875" y2="355.5" stroke="#22283a" stroke-width="1.3"/>
<line x1="295.875" y1="385" x2="295.875" y2="387.5" stroke="#22283a" stroke-width="1.3"/>
<line x1="293.33125" y1="387.5" x2="298.41875" y2="387.5" stroke="#22283a" stroke-width="1.3"/>
<rect x="291.25" y="375.75" width="9.25" height="9.25" fill="none" stroke="#38446e" stroke-width="1.3"/>
<line x1="291.25" y1="383" x2="300.5" y2="383" stroke="#22283a" stroke-width="1.4"/>
<circle cx="295.875" cy="381" r="0.9" fill="#222"/>
<circle cx="295.875" cy="384" r="0.9" fill="#222"/>
<line x1="315.65" y1="395.4" x2="315.65" y2="398.8" stroke="#3a2228" stroke-width="1.3"/>
<line x1="313.1475" y1="395.4" x2="318.1525" y2="395.4" stroke="#3a2228" stroke-width="1.3"/>
<line x1="315.65" y1="408" x2="315.65" y2="411.3" stroke="#3a2228" stroke-width="1.3"/>
<line x1="313.1475" y1="411.3" x2="318.1525" y2="411.3" stroke="#3a2228" stroke-width="1.3"/>
<rect x="311.1" y="398.8" width="9.099999999999966" height="9.199999999999989" fill="none" stroke="#9c2646" stroke-width="1.4"/>
<line x1="311.1" y1="405" x2="320.2" y2="405" stroke="#3a2228" stroke-width="1.4"/>
<circle cx="315.65" cy="402" r="0.9" fill="#222"/>
<line x1="324.95" y1="393.2" x2="324.95" y2="397.2" stroke="#22283a" stroke-width="1.3"/>
<line x1="322.4475" y1="393.2" x2="327.4525" y2="393.2" stroke="#22283a" stroke-width="1.3"/>
<line x1="324.95" y1="408.5" x2="324.95" y2="410.8" stroke="#22283a" stroke-width="1.3"/>
<line x1="322.4475" y1="410.8" x2="327.4525" y2="410.8" stroke="#22283a" stroke-width="1.3"/>
<rect x="320.4" y="397.2" width="9.100000000000023" height="11.300000000000011" fill="none" stroke="#38446e" stroke-width="1.3"/>
<line x1="320.4" y1="405.8" x2="329.5" y2="405.8" stroke="#22283a" stroke-width="1.4"/>
<circle cx="324.95" cy="400" r="0.9" fill="#222"/>
<circle cx="324.95" cy="407" r="0.9" fill="#222"/>
<text x="227.5" y="440.432" font-size="8" text-anchor="middle" fill="#222" font-weight="normal" textLength="18.5" lengthAdjust="spacingAndGlyphs" stroke="#222" stroke-width="0.12">Adult</text>
<text x="256.9" y="440.432" font-size="8" text-anchor="middle" fill="#222" font-weight="normal" textLength="31.5" lengthAdjust="spacingAndGlyphs" stroke="#222" stroke-width="0.12">Weanling</text>
<text x="290.5" y="440.432" font-size="8" text-anchor="middle" fill="#222" font-weight="normal" textLength="18.5" lengthAdjust="spacingAndGlyphs" stroke="#222" stroke-width="0.12">Adult</text>
<text x="320.75" y="440.432" font-size="8" text-anchor="middle" fill="#222" font-weight="normal" textLength="31.5" lengthAdjust="spacingAndGlyphs" stroke="#222" stroke-width="0.12">Weanling</text>
<text x="222.5" y="452.0515" font-size="7" text-anchor="middle" fill="#222" font-weight="normal" stroke="#222" stroke-width="0.1">(10)</text>
<text x="235" y="452.0515" font-size="7" text-anchor="middle" fill="#222" font-weight="normal" stroke="#222" stroke-width="0.1">(6)</text>
<text x="251.25" y="452.0515" font-size="7" text-anchor="middle" fill="#222" font-weight="normal" stroke="#222" stroke-width="0.1">(9)</text>
<text x="262.5" y="452.0515" font-size="7" text-anchor="middle" fill="#222" font-weight="normal" stroke="#222" stroke-width="0.1">(7)</text>
<text x="285" y="452.0515" font-size="7" text-anchor="middle" fill="#222" font-weight="normal" stroke="#222" stroke-width="0.1">(5)</text>
<text x="296.25" y="452.0515" font-size="7" text-anchor="middle" fill="#222" font-weight="normal" stroke="#222" stroke-width="0.1">(6)</text>
<text x="316.25" y="452.0515" font-size="7" text-anchor="middle" fill="#222" font-weight="normal" stroke="#222" stroke-width="0.1">(6)</text>
<text x="326.25" y="452.0515" font-size="7" text-anchor="middle" fill="#222" font-weight="normal" stroke="#222" stroke-width="0.1">(5)</text>
<text x="244.6" y="466" font-size="10" text-anchor="middle" fill="#222" font-weight="normal" textLength="21" lengthAdjust="spacingAndGlyphs" stroke="#222" stroke-width="0.3">Female</text>
<text x="308.75" y="466" font-size="10" text-anchor="middle" fill="#222" font-weight="normal" textLength="14.5" lengthAdjust="spacingAndGlyphs" stroke="#222" stroke-width="0.3">Male</text>
<g transform="translate(182.30,383.4) rotate(-90) scale(0.6851,1)" fill="#222" stroke="#222" stroke-width="0.12">
<text x="-49.62" y="0" font-size="9.5">Enterocyte FOX activity</text>
</g>
<g transform="translate(192.00,382.6) rotate(-90) scale(0.8234,1)" fill="#222" stroke="#222" stroke-width="0.12">
<text x="-38.26" y="0" font-size="9.5">(AUC</text>
<text x="-15.03" y="-3.5" font-size="7">-1</text>
<text x="-8.81" y="0" font-size="9.5"> [ΔA</text>
<text x="9.15" y="1.8" font-size="7">570</text>
<text x="20.83" y="0" font-size="9.5">/Δ</text>
<text x="29.81" y="0" font-size="9.5" font-style="italic">t</text>
<text x="32.45" y="0" font-size="9.5">])</text>
</g>
<text x="349" y="309.95" font-size="12" font-weight="bold" fill="#000">I</text>
<line x1="391.25" y1="341.5" x2="391.25" y2="427.5" stroke="#0a0a0a" stroke-width="1.5"/>
<line x1="388.75" y1="343.75" x2="391.25" y2="343.75" stroke="#0a0a0a" stroke-width="1.5"/>
<text x="385.25" y="346.70245" font-size="8.1" text-anchor="end" fill="#222" font-weight="normal" stroke="#222" stroke-width="0.1">2.0</text>
<line x1="388.75" y1="365" x2="391.25" y2="365" stroke="#0a0a0a" stroke-width="1.5"/>
<text x="385.25" y="367.95245" font-size="8.1" text-anchor="end" fill="#222" font-weight="normal" stroke="#222" stroke-width="0.1">1.5</text>
<line x1="388.75" y1="385.75" x2="391.25" y2="385.75" stroke="#0a0a0a" stroke-width="1.5"/>
<text x="385.25" y="388.70245" font-size="8.1" text-anchor="end" fill="#222" font-weight="normal" stroke="#222" stroke-width="0.1">1.0</text>
<line x1="388.75" y1="406.25" x2="391.25" y2="406.25" stroke="#0a0a0a" stroke-width="1.5"/>
<text x="385.25" y="409.20245" font-size="8.1" text-anchor="end" fill="#222" font-weight="normal" stroke="#222" stroke-width="0.1">0.5</text>
<line x1="388.75" y1="427" x2="391.25" y2="427" stroke="#0a0a0a" stroke-width="1.5"/>
<text x="385.25" y="429.95245" font-size="8.1" text-anchor="end" fill="#222" font-weight="normal" stroke="#222" stroke-width="0.1">0.0</text>
<line x1="390.5" y1="427" x2="504.5" y2="427" stroke="#0a0a0a" stroke-width="1.5"/>
<line x1="403.75" y1="427" x2="403.75" y2="429.5" stroke="#0a0a0a" stroke-width="1.5"/>
<line x1="431.25" y1="427" x2="431.25" y2="429.5" stroke="#0a0a0a" stroke-width="1.5"/>
<line x1="463.25" y1="427" x2="463.25" y2="429.5" stroke="#0a0a0a" stroke-width="1.5"/>
<line x1="490.75" y1="427" x2="490.75" y2="429.5" stroke="#0a0a0a" stroke-width="1.5"/>
<line x1="399.25" y1="383" x2="399.25" y2="383.75" stroke="#3a2228" stroke-width="1.3"/>
<line x1="397.4625" y1="383" x2="401.0375" y2="383" stroke="#3a2228" stroke-width="1.3"/>
<line x1="399.25" y1="388" x2="399.25" y2="388.5" stroke="#3a2228" stroke-width="1.3"/>
<line x1="397.4625" y1="388.5" x2="401.0375" y2="388.5" stroke="#3a2228" stroke-width="1.3"/>
<rect x="396" y="383.75" width="6.5" height="4.25" fill="#9c2646" stroke="#9c2646" stroke-width="1.4"/>
<line x1="396" y1="386" x2="402.5" y2="386" stroke="#3a2228" stroke-width="1.4"/>
<circle cx="399.25" cy="385" r="0.9" fill="#222"/>
<line x1="408.75" y1="374.5" x2="408.75" y2="377.5" stroke="#22283a" stroke-width="1.3"/>
<line x1="406.4125" y1="374.5" x2="411.0875" y2="374.5" stroke="#22283a" stroke-width="1.3"/>
<line x1="408.75" y1="402" x2="408.75" y2="406.25" stroke="#22283a" stroke-width="1.3"/>
<line x1="406.4125" y1="406.25" x2="411.0875" y2="406.25" stroke="#22283a" stroke-width="1.3"/>
<rect x="404.5" y="377.5" width="8.5" height="24.5" fill="none" stroke="#38446e" stroke-width="1.2"/>
<line x1="404.5" y1="394.5" x2="413" y2="394.5" stroke="#22283a" stroke-width="1.4"/>
<circle cx="408.75" cy="386" r="0.9" fill="#222"/>
<circle cx="408.75" cy="398" r="0.9" fill="#222"/>
<line x1="427.125" y1="363" x2="427.125" y2="372" stroke="#3a2228" stroke-width="1.3"/>
<line x1="424.58125" y1="363" x2="429.66875" y2="363" stroke="#3a2228" stroke-width="1.3"/>
<line x1="427.125" y1="393" x2="427.125" y2="395.75" stroke="#3a2228" stroke-width="1.3"/>
<line x1="424.58125" y1="395.75" x2="429.66875" y2="395.75" stroke="#3a2228" stroke-width="1.3"/>
<rect x="422.5" y="372" width="9.25" height="21" fill="none" stroke="#9c2646" stroke-width="1.2"/>
<line x1="422.5" y1="385" x2="431.75" y2="385" stroke="#3a2228" stroke-width="1.4"/>
<circle cx="427.125" cy="376" r="0.9" fill="#222"/>
<circle cx="427.125" cy="388" r="0.9" fill="#222"/>
<line x1="436.25" y1="394.5" x2="436.25" y2="395" stroke="#22283a" stroke-width="1.3"/>
<line x1="433.775" y1="394.5" x2="438.725" y2="394.5" stroke="#22283a" stroke-width="1.3"/>
<line x1="436.25" y1="411.25" x2="436.25" y2="414.5" stroke="#22283a" stroke-width="1.3"/>
<line x1="433.775" y1="414.5" x2="438.725" y2="414.5" stroke="#22283a" stroke-width="1.3"/>
<rect x="431.75" y="395" width="9.0" height="16.25" fill="none" stroke="#38446e" stroke-width="1.2"/>
<line x1="431.75" y1="403.75" x2="440.75" y2="403.75" stroke="#22283a" stroke-width="1.4"/>
<circle cx="436.25" cy="408" r="0.9" fill="#222"/>
<line x1="459.125" y1="379.5" x2="459.125" y2="385.75" stroke="#3a2228" stroke-width="1.3"/>
<line x1="456.58125" y1="379.5" x2="461.66875" y2="379.5" stroke="#3a2228" stroke-width="1.3"/>
<line x1="459.125" y1="399.25" x2="459.125" y2="405.5" stroke="#3a2228" stroke-width="1.3"/>
<line x1="456.58125" y1="405.5" x2="461.66875" y2="405.5" stroke="#3a2228" stroke-width="1.3"/>
<rect x="454.5" y="385.75" width="9.25" height="13.5" fill="none" stroke="#9c2646" stroke-width="1.2"/>
<line x1="454.5" y1="393.75" x2="463.75" y2="393.75" stroke="#3a2228" stroke-width="1.4"/>
<circle cx="459.125" cy="390" r="0.9" fill="#222"/>
<circle cx="459.125" cy="396" r="0.9" fill="#222"/>
<line x1="468.375" y1="387.5" x2="468.375" y2="391.75" stroke="#22283a" stroke-width="1.3"/>
<line x1="466.10625" y1="387.5" x2="470.64375" y2="387.5" stroke="#22283a" stroke-width="1.3"/>
<line x1="466.10625" y1="403.25" x2="470.64375" y2="403.25" stroke="#22283a" stroke-width="1.3"/>
<rect x="464.25" y="391.75" width="8.25" height="11.5" fill="none" stroke="#38446e" stroke-width="1.2"/>
<line x1="464.25" y1="402.5" x2="472.5" y2="402.5" stroke="#22283a" stroke-width="1.4"/>
<circle cx="468.375" cy="398" r="0.9" fill="#222"/>
<line x1="486.25" y1="355" x2="486.25" y2="383" stroke="#3a2228" stroke-width="1.3"/>
<line x1="483.775" y1="355" x2="488.725" y2="355" stroke="#3a2228" stroke-width="1.3"/>
<line x1="486.25" y1="391.75" x2="486.25" y2="393.25" stroke="#3a2228" stroke-width="1.3"/>
<line x1="483.775" y1="393.25" x2="488.725" y2="393.25" stroke="#3a2228" stroke-width="1.3"/>
<rect x="481.75" y="383" width="9.0" height="8.75" fill="none" stroke="#9c2646" stroke-width="1.2"/>
<line x1="481.75" y1="391.25" x2="490.75" y2="391.25" stroke="#3a2228" stroke-width="1.4"/>
<circle cx="486.25" cy="386" r="0.9" fill="#222"/>
<line x1="493.10625" y1="397" x2="497.64375" y2="397" stroke="#22283a" stroke-width="1.3"/>
<line x1="495.375" y1="405.5" x2="495.375" y2="409.25" stroke="#22283a" stroke-width="1.3"/>
<line x1="493.10625" y1="409.25" x2="497.64375" y2="409.25" stroke="#22283a" stroke-width="1.3"/>
<rect x="491.25" y="397" width="8.25" height="8.5" fill="none" stroke="#38446e" stroke-width="1.2"/>
<line x1="491.25" y1="401.25" x2="499.5" y2="401.25" stroke="#22283a" stroke-width="1.4"/>
<circle cx="495.375" cy="400" r="0.9" fill="#222"/>
<circle cx="495.375" cy="403" r="0.9" fill="#222"/>
<text x="404.4" y="440.832" font-size="8" text-anchor="middle" fill="#222" font-weight="normal" textLength="18.5" lengthAdjust="spacingAndGlyphs" stroke="#222" stroke-width="0.12">Adult</text>
<text x="433.5" y="440.832" font-size="8" text-anchor="middle" fill="#222" font-weight="normal" textLength="32" lengthAdjust="spacingAndGlyphs" stroke="#222" stroke-width="0.12">Weanling</text>
<text x="463.75" y="440.832" font-size="8" text-anchor="middle" fill="#222" font-weight="normal" textLength="18.5" lengthAdjust="spacingAndGlyphs" stroke="#222" stroke-width="0.12">Adult</text>
<text x="490.75" y="440.832" font-size="8" text-anchor="middle" fill="#222" font-weight="normal" textLength="32" lengthAdjust="spacingAndGlyphs" stroke="#222" stroke-width="0.12">Weanling</text>
<text x="398.75" y="450.9057" font-size="6.6" text-anchor="middle" fill="#222" font-weight="normal" stroke="#222" stroke-width="0.1">(11)</text>
<text x="409.6" y="450.9057" font-size="6.6" text-anchor="middle" fill="#222" font-weight="normal" stroke="#222" stroke-width="0.1">(9)</text>
<text x="426.25" y="450.9057" font-size="6.6" text-anchor="middle" fill="#222" font-weight="normal" stroke="#222" stroke-width="0.1">(8)</text>
<text x="437" y="450.9057" font-size="6.6" text-anchor="middle" fill="#222" font-weight="normal" stroke="#222" stroke-width="0.1">(5)</text>
<text x="458.5" y="450.9057" font-size="6.6" text-anchor="middle" fill="#222" font-weight="normal" stroke="#222" stroke-width="0.1">(11)</text>
<text x="469" y="450.9057" font-size="6.6" text-anchor="middle" fill="#222" font-weight="normal" stroke="#222" stroke-width="0.1">(7)</text>
<text x="485.75" y="450.9057" font-size="6.6" text-anchor="middle" fill="#222" font-weight="normal" stroke="#222" stroke-width="0.1">(7)</text>
<text x="496.25" y="450.9057" font-size="6.6" text-anchor="middle" fill="#222" font-weight="normal" stroke="#222" stroke-width="0.1">(6)</text>
<text x="421.9" y="464.3" font-size="10" text-anchor="middle" fill="#222" font-weight="normal" textLength="21" lengthAdjust="spacingAndGlyphs" stroke="#222" stroke-width="0.3">Female</text>
<text x="480.25" y="464.3" font-size="10" text-anchor="middle" fill="#222" font-weight="normal" textLength="14.5" lengthAdjust="spacingAndGlyphs" stroke="#222" stroke-width="0.3">Male</text>
<g transform="translate(352.80,385.8) rotate(-90) scale(0.6986,1)" fill="#222" stroke="#222" stroke-width="0.12">
<text x="-37.22" y="0" font-size="9.5">Serum Cp activity</text>
</g>
<g transform="translate(362.80,385) rotate(-90) scale(0.8637,1)" fill="#222" stroke="#222" stroke-width="0.12">
<text x="-36.47" y="0" font-size="9.5">(slope [ΔA</text>
<text x="7.36" y="1.8" font-size="7">530</text>
<text x="19.04" y="0" font-size="9.5">/Δ</text>
<text x="28.03" y="0" font-size="9.5" font-style="italic">t</text>
<text x="30.67" y="0" font-size="9.5">])</text>
</g>
<rect x="0.7" y="0.6" width="518" height="473.4" fill="none" stroke="#000" stroke-width="1.6"/>
</svg>
</body></html>
